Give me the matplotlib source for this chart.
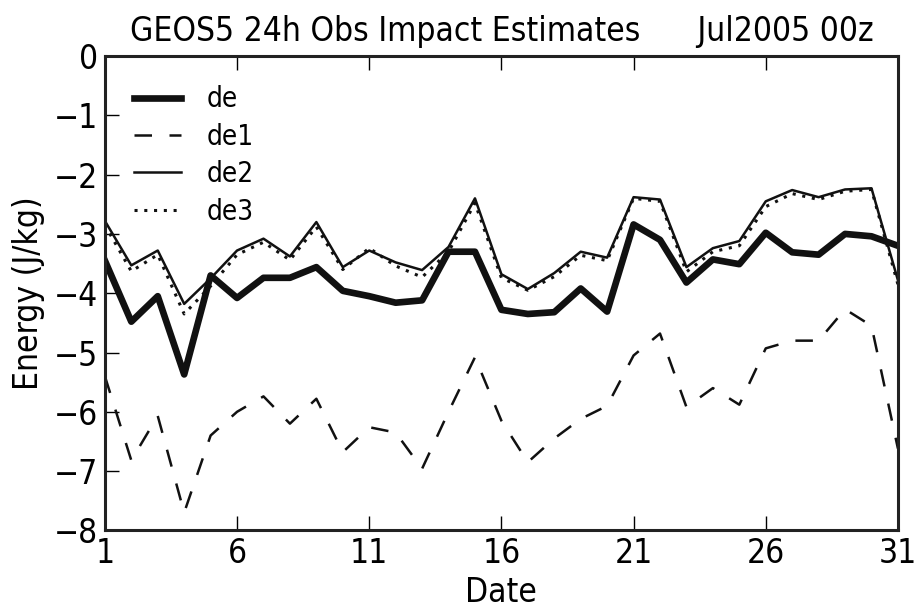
import numpy as np
import matplotlib
matplotlib.use("Agg")
import matplotlib.pyplot as plt

# Datos
dias = np.arange(1, 32)
de = [-3.45, -4.48, -4.05, -5.37, -3.70, -4.08, -3.74, -3.74, -3.56, -3.96,
      -4.05, -4.16, -4.12, -3.30, -3.30, -4.28, -4.35, -4.32, -3.92, -4.31,
      -2.84, -3.10, -3.82, -3.43, -3.51, -2.98, -3.31, -3.35, -3.00, -3.04,
      -3.20]
de1 = [-5.40, -6.82, -6.07, -7.70, -6.40, -6.00, -5.74, -6.20, -5.78, -6.68,
       -6.26, -6.35, -6.96, -6.00, -5.08, -6.15, -6.85, -6.45, -6.12, -5.90,
       -5.05, -4.68, -5.92, -5.60, -5.88, -4.93, -4.80, -4.80, -4.27, -4.55,
       -6.62]
de2 = [-2.78, -3.53, -3.28, -4.18, -3.75, -3.28, -3.08, -3.38, -2.80, -3.56,
       -3.28, -3.48, -3.61, -3.22, -2.40, -3.68, -3.93, -3.66, -3.30, -3.40,
       -2.38, -2.42, -3.56, -3.24, -3.12, -2.45, -2.26, -2.38, -2.25, -2.23,
       -3.78]
de3 = [-2.85, -3.63, -3.35, -4.35, -3.88, -3.35, -3.14, -3.44, -2.88, -3.60,
       -3.24, -3.54, -3.73, -3.30, -2.48, -3.74, -3.95, -3.72, -3.36, -3.45,
       -2.40, -2.45, -3.64, -3.30, -3.20, -2.54, -2.32, -2.42, -2.28, -2.25,
       -3.85]
xticks = [1, 6, 11, 16, 21, 26, 31]

plt.rcParams['font.family'] = 'DejaVu Sans'
plt.rcParams['font.stretch'] = 'condensed'

fig = plt.figure(figsize=(9.2, 6.16), dpi=100)
ax = fig.add_axes([0.114, 0.139, 0.862, 0.770])

ax.plot(dias, de, color='#111111', lw=4.8, label='de')
ax.plot(dias, de1, color='#111111', lw=1.8, linestyle=(0, (7, 7)), label='de1')
ax.plot(dias, de2, color='#111111', lw=1.8, label='de2')
ax.plot(dias, de3, color='#111111', lw=2.2, linestyle=(0, (1, 2.2)), label='de3')

ax.set_xlim(1, 31)
ax.set_ylim(-8, 0)
ax.set_xticks(xticks)
ax.set_yticks(range(-8, 1))
ax.tick_params(direction='in', length=10, width=1, labelsize=24,
               top=True, right=False, pad=5)
for s in ax.spines.values():
    s.set_linewidth(2.2)
    s.set_color('#222222')

ax.set_xlabel('Date', fontsize=24, labelpad=4)
ax.set_ylabel('Energy (J/kg)', fontsize=24, labelpad=6)
ax.set_title('GEOS5 24h Obs Impact Estimates      Jul2005 00z', fontsize=24, pad=11)

leg = ax.legend(loc='upper left', frameon=False, fontsize=20, handlelength=1.7,
                labelspacing=0.34, borderaxespad=0.65, handletextpad=0.9)

fig.savefig('out.png', dpi=100)
